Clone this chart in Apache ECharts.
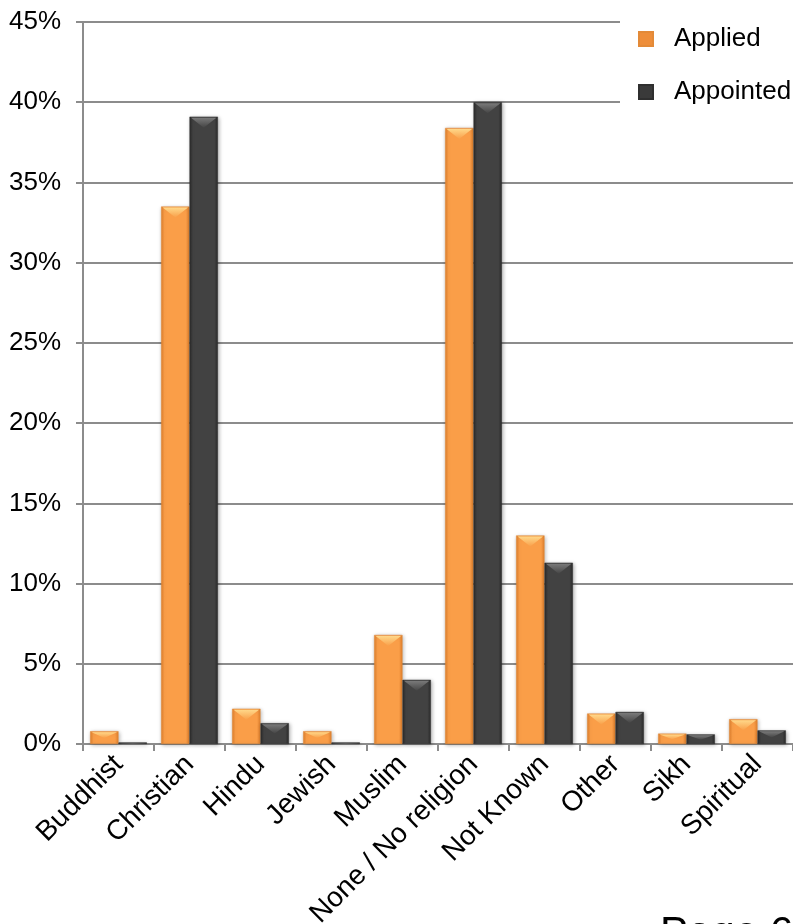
<!DOCTYPE html>
<html>
<head>
<meta charset="utf-8">
<script src="https://cdn.jsdelivr.net/npm/echarts@6/dist/echarts.min.js"></script>
<style>
html,body{margin:0;padding:0;background:#fff;overflow:hidden;}
#chart{width:793px;height:924px;}
</style>
</head>
<body>
<div id="chart"></div>
<script>
var categories = ['Buddhist','Christian','Hindu','Jewish','Muslim','None / No religion','Not Known','Other','Sikh','Spiritual'];
var applied =   [0.8, 33.5, 2.2, 0.8, 6.8, 38.4, 13.0, 1.9, 0.65, 1.55];
var appointed = [0.1, 39.1, 1.3, 0.1, 4.0, 40.0, 11.3, 2.0, 0.6, 0.85];
var yTicks = [0,5,10,15,20,25,30,35,40,45];

function grad(edge, mid){
  return new echarts.graphic.LinearGradient(0,0,1,0,[
    {offset:0,color:edge},{offset:0.12,color:mid},{offset:0.88,color:mid},{offset:1,color:edge}
  ]);
}
var bevelData = categories.map(function(c,i){return [i, applied[i], appointed[i]];});

function bevelItem(params, api){
  var i = api.value(0);
  var band = api.size([1,0])[0];
  var half = band*0.4;
  var base = api.coord([i,0]);
  var cx = base[0];
  var out = [];
  [[api.value(1), cx-half, cx, '#FFD88A', '#F9A04A'], [api.value(2), cx, cx+half, '#7a7a7a', '#454545']].forEach(function(b){
    var top = api.coord([i,b[0]])[1];
    var hgt = base[1]-top;
    if (hgt < 1) return;
    var h = Math.min(10, hgt*0.45);
    var x0 = b[1]+1.5, x1 = b[2]-1.5, xm = (x0+x1)/2;
    out.push({type:'polygon', shape:{points:[[x0,top+1],[x1,top+1],[xm,top+1+h]]},
      style:{fill:new echarts.graphic.LinearGradient(0,0,0,1,[{offset:0,color:b[3]},{offset:1,color:b[4]}])}});
  });
  return {type:'group', children:out};
}

var chart = echarts.init(document.getElementById('chart'));
var font = '"Liberation Sans", Arial, sans-serif';
chart.setOption({
  animation:false,
  textStyle:{fontFamily:font},
  grid:{left:83,right:0,top:22,bottom:180,containLabel:false,outerBoundsMode:'none'},
  legend:{
    orient:'vertical', left:620, top:12, itemGap:27, itemWidth:14, itemHeight:14,
    icon:'rect', backgroundColor:'#fff', padding:[14,40,10,18],
    textStyle:{fontSize:26,color:'#000',fontFamily:font,padding:[0,0,0,16]},
    data:[{name:'Applied',itemStyle:{color:'#EE8E3A'}},{name:'Appointed',itemStyle:{color:'#3A3A3A'}}]
  },
  xAxis:{
    type:'category', data:categories,
    axisLine:{lineStyle:{color:'#8c8c8c',width:2}},
    axisTick:{show:true,alignWithLabel:false,length:7,lineStyle:{color:'#8c8c8c',width:2}},
    axisLabel:{rotate:45,fontSize:28,color:'#000',interval:0,margin:16,fontFamily:font}
  },
  yAxis:{
    type:'value', min:0, max:45, interval:5,
    axisLine:{show:true,lineStyle:{color:'#8c8c8c',width:2}},
    axisTick:{show:true,length:7,lineStyle:{color:'#8c8c8c',width:2}},
    splitLine:{lineStyle:{color:'#8c8c8c',width:2}},
    axisLabel:{fontSize:26,color:'#000',margin:22,fontFamily:font,
      formatter:function(v){return yTicks.indexOf(v)>=0? v+'%':'';}}
  },
  series:[
    {name:'Applied',type:'bar',data:applied,barGap:'0%',barCategoryGap:'20%',
     itemStyle:{color:grad('#E07F2C','#FA9E48'),borderColor:'#E38A38',borderWidth:0.5,
       shadowBlur:4,shadowColor:'rgba(0,0,0,0.3)',shadowOffsetX:1,shadowOffsetY:1}},
    {name:'Appointed',type:'bar',data:appointed,
     itemStyle:{color:grad('#2a2a2a','#424242'),borderColor:'#2f2f2f',borderWidth:0.5,
       shadowBlur:4,shadowColor:'rgba(0,0,0,0.3)',shadowOffsetX:1,shadowOffsetY:1}},
    {name:'bevel',type:'custom',data:bevelData,renderItem:bevelItem,silent:true,z:3,
     encode:{x:0,y:[1,2]}}
  ],
  graphic:[{type:'text',left:660,top:913,style:{text:'Page 6',fontSize:42,fill:'#000',fontFamily:font}}]
});
</script>
</body>
</html>
